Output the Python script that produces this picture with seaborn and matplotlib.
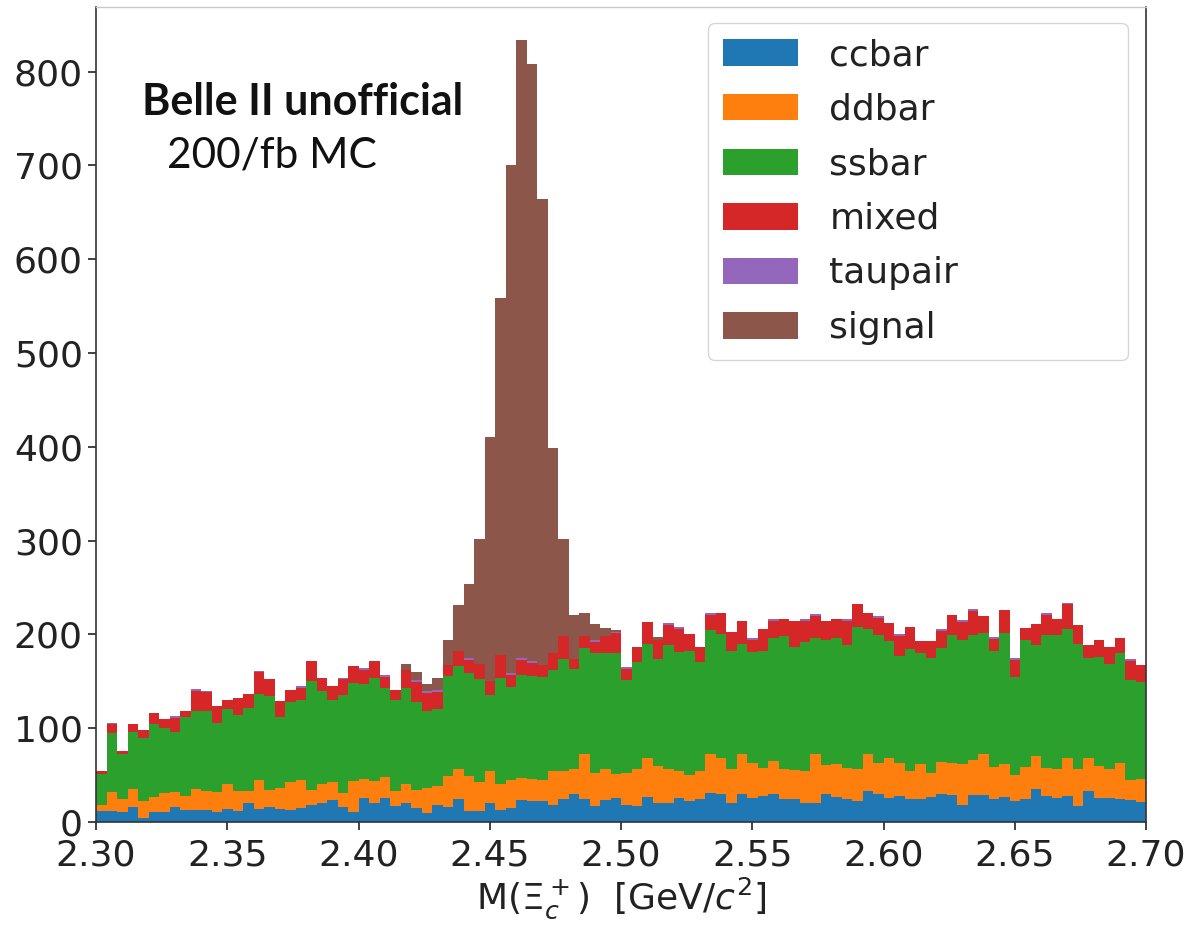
import numpy as np
import pandas as pd
import matplotlib
matplotlib.use("Agg")
import matplotlib.pyplot as plt
import seaborn as sns
from matplotlib.patches import Patch

# ---------------- data ----------------
x_min, x_max, n_bins = 2.30, 2.70, 100

ccbar = [12, 12, 11, 16, 4, 11, 11, 16, 13, 13,
         13, 11, 14, 12, 20, 14, 16, 14, 13, 15,
         18, 20, 23, 16, 11, 26, 20, 26, 17, 20,
         15, 10, 18, 16, 24, 12, 12, 20, 13, 15,
         23, 22, 22, 18, 24, 30, 24, 17, 23, 26,
         18, 17, 27, 20, 20, 26, 22, 24, 31, 30,
         20, 30, 26, 28, 30, 25, 24, 20, 20, 30,
         27, 24, 22, 33, 30, 26, 28, 25, 25, 27,
         30, 29, 18, 29, 29, 24, 27, 22, 24, 35,
         28, 26, 28, 17, 33, 26, 26, 24, 23, 21]

ddbar = [6, 20, 13, 19, 18, 16, 20, 16, 15, 22,
         20, 21, 27, 21, 13, 31, 18, 22, 30, 30,
         16, 20, 20, 15, 33, 20, 24, 22, 16, 20,
         19, 26, 20, 33, 32, 37, 31, 34, 27, 30,
         24, 24, 23, 36, 30, 27, 49, 35, 33, 25,
         34, 39, 41, 40, 37, 28, 28, 30, 42, 38,
         36, 42, 37, 30, 35, 32, 31, 34, 52, 31,
         35, 34, 34, 39, 33, 42, 35, 29, 37, 25,
         34, 34, 44, 37, 44, 35, 35, 28, 35, 35,
         30, 31, 40, 39, 35, 34, 31, 39, 22, 25]

ssbar = [33, 63, 48, 61, 68, 77, 69, 64, 84, 83,
         85, 74, 79, 81, 89, 92, 100, 76, 85, 85,
         116, 100, 87, 104, 104, 101, 110, 95, 97, 103,
         94, 82, 83, 107, 110, 110, 109, 81, 114, 99,
         110, 110, 110, 108, 120, 106, 113, 128, 124, 129,
         99, 115, 122, 114, 132, 127, 132, 117, 132, 132,
         126, 118, 118, 124, 131, 141, 132, 138, 124, 133,
         134, 131, 152, 134, 136, 125, 114, 130, 118, 123,
         121, 136, 132, 133, 129, 123, 140, 105, 135, 119,
         141, 142, 138, 134, 107, 116, 111, 117, 106, 103]

mixed = [3, 9, 4, 8, 8, 12, 10, 15, 6, 22,
         21, 18, 10, 18, 14, 23, 18, 17, 13, 13,
         22, 14, 15, 17, 18, 15, 18, 12, 11, 19,
         21, 20, 18, 11, 16, 14, 16, 15, 24, 13,
         16, 14, 12, 18, 24, 11, 12, 12, 18, 21,
         12, 16, 23, 20, 21, 25, 18, 16, 16, 23,
         21, 24, 13, 24, 18, 18, 27, 22, 24, 20,
         20, 25, 24, 17, 19, 19, 21, 24, 13, 18,
         19, 22, 19, 26, 18, 13, 24, 18, 13, 22,
         22, 17, 26, 20, 14, 18, 19, 16, 21, 18]

taupair = [0, 2, 0, 0, 0, 0, 0, 2, 0, 2,
           1, 0, 0, 0, 0, 1, 1, 0, 0, 2,
           0, 0, 0, 2, 0, 2, 0, 2, 0, 0,
           2, 2, 2, 0, 0, 2, 0, 0, 0, 2,
           2, 2, 0, 0, 0, 0, 0, 2, 0, 2,
           2, 0, 0, 0, 2, 2, 0, 0, 2, 0,
           0, 0, 2, 0, 2, 0, 0, 2, 2, 0,
           0, 2, 0, 0, 2, 0, 2, 0, 0, 0,
           2, 0, 2, 2, 0, 2, 0, 2, 0, 0,
           2, 0, 2, 0, 0, 0, 0, 0, 2, 0]

signal = [0, 0, 0, 0, 0, 0, 0, 0, 0, 0,
          0, 0, 0, 0, 0, 0, 0, 0, 0, 0,
          0, 0, 0, 0, 0, 0, 0, 0, 0, 6,
          9, 7, 13, 27, 49, 79, 134, 260, 381, 542,
          659, 636, 497, 219, 104, 47, 25, 17, 9, 2,
          0, 0, 0, 3, 0, 0, 0, 0, 0, 0,
          0, 0, 0, 0, 0, 0, 0, 0, 0, 0,
          0, 0, 0, 0, 0, 0, 0, 0, 0, 0,
          0, 0, 0, 0, 0, 0, 0, 0, 0, 0,
          0, 0, 0, 0, 0, 0, 0, 0, 0, 0]

samples = ["ccbar", "ddbar", "ssbar", "mixed", "taupair", "signal"]
colors = ["#1f77b4", "#ff7f0e", "#2ca02c", "#d62728", "#9467bd", "#8c564b"]
x_ticks = [2.30, 2.35, 2.40, 2.45, 2.50, 2.55, 2.60, 2.65, 2.70]
y_ticks = [0, 100, 200, 300, 400, 500, 600, 700, 800]

# ---------------- build long table ----------------
width = (x_max - x_min) / n_bins
centers = x_min + width * (np.arange(n_bins) + 0.5)
series = dict(zip(samples, [ccbar, ddbar, ssbar, mixed, taupair, signal]))
rows = []
for name in samples:
    for c, v in zip(centers, series[name]):
        rows.append((c, v, name))
df = pd.DataFrame(rows, columns=["mass", "count", "sample"])

# ---------------- plot ----------------
sns.set_style("ticks")
plt.rcParams["font.family"] = ["DejaVu Sans"]
FS = 26

fig = plt.figure(figsize=(12.01, 9.26), dpi=100)
W, H = 1201, 926
ax_l, ax_r, ax_b, ax_t = 96, 1146, 822, 7
ax = fig.add_axes([ax_l / W, (H - ax_b) / H, (ax_r - ax_l) / W, (ax_b - ax_t) / H])

sns.histplot(data=df, x="mass", weights="count", hue="sample",
             hue_order=samples[::-1], palette=dict(zip(samples, colors)),
             multiple="stack", bins=n_bins, binrange=(x_min, x_max),
             element="step", fill=True, alpha=1, linewidth=0,
             legend=False, ax=ax)

ax.set_xlim(x_min, x_max)
ax.set_ylim(0, 869)
ax.set_xticks(x_ticks)
ax.set_xticklabels([f"{t:.2f}" for t in x_ticks])
ax.set_yticks(y_ticks)
ax.tick_params(labelsize=FS, length=6, width=1.2, colors="#222222")
ax.tick_params(axis="x", pad=6)
for s in ax.spines.values():
    s.set_color("#333333")
    s.set_linewidth(1.2)
ax.spines["top"].set_color("#c8c8c8")
ax.spines["top"].set_linewidth(1.0)
ax.set_ylabel("")
ax.set_xlabel(r"M($\Xi_c^+$)  [GeV/$c^2$]", fontsize=FS, color="#222222",
              labelpad=2)

# legend box spanning x = 708..1128 px, top at y = 23 px
lx0 = (708 - ax_l) / (ax_r - ax_l)
lw = (1128 - 708) / (ax_r - ax_l)
ltop = (ax_b - 23) / (ax_b - ax_t)
handles = [Patch(facecolor=c, edgecolor="none") for c in colors]
leg = ax.legend(handles, samples, loc="upper left", mode="expand",
                bbox_to_anchor=(lx0, 0.0, lw, ltop), borderaxespad=0.0,
                fontsize=FS, handlelength=2.08, handleheight=0.75,
                labelspacing=0.57, handletextpad=0.86, borderpad=0.42,
                frameon=True)
leg.get_frame().set_edgecolor("#cccccc")
for t in leg.get_texts():
    t.set_color("#222222")

fig.text(142 / W, 1 - 115 / H, "Belle II unofficial", fontsize=31,
         fontweight="bold", family=["Lato", "DejaVu Sans"], va="baseline",
         color="#111111")
fig.text(167 / W, 1 - 167 / H, "200/fb MC", fontsize=30.5,
         family=["Lato", "DejaVu Sans"], va="baseline", color="#111111")

fig.savefig("out.png", dpi=100)
